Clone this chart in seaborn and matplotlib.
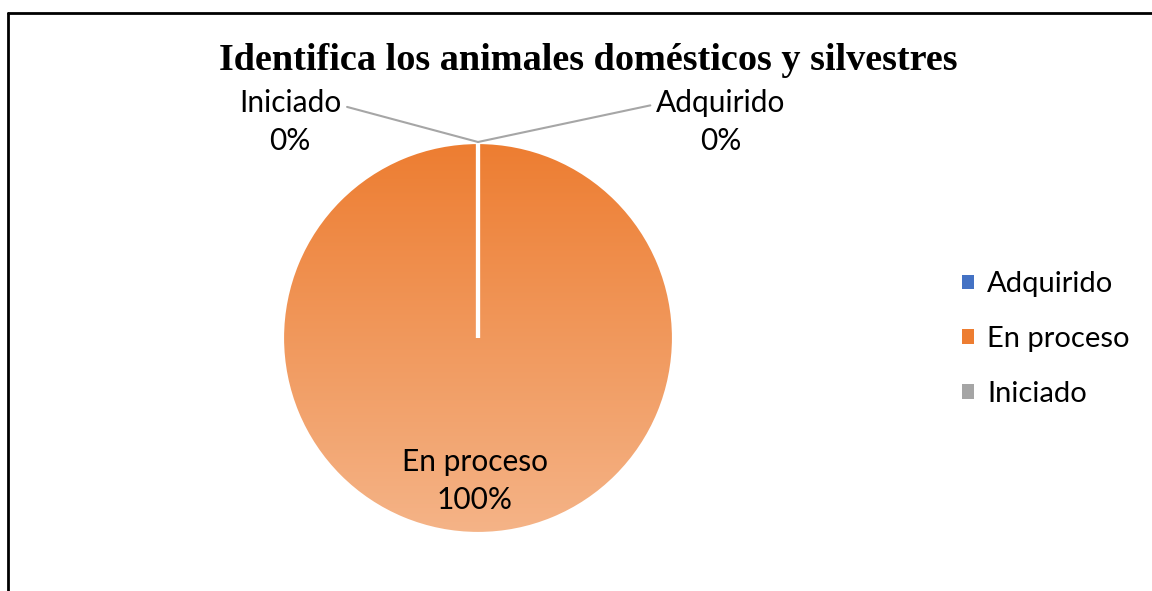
import matplotlib
matplotlib.use("Agg")
import matplotlib.pyplot as plt
from matplotlib.lines import Line2D
from matplotlib.patches import Patch
from matplotlib.colors import LinearSegmentedColormap
import numpy as np
import seaborn as sns

categories = ["Adquirido", "En proceso", "Iniciado"]
values = [0, 100, 0]
colors = ["#4472C4", "#ED7D31", "#A5A5A5"]
title = "Identifica los animales domésticos y silvestres"

sns.set_theme(style="white")
plt.rcParams['font.family'] = ['Lato', 'DejaVu Sans']
plt.rcParams['text.color'] = 'black'

W, H = 1152, 591
fig = plt.figure(figsize=(W / 100, H / 100), dpi=100)

# pie axes: center (478, 338) px, radius ~196 px
cx, cy, r = 478, 338, 196
ax = fig.add_axes([(cx - r) / W, (H - cy - r) / H, 2 * r / W, 2 * r / H])

wedges, _ = ax.pie(values, colors=colors, startangle=90, counterclock=False,
                   wedgeprops=dict(edgecolor="white", linewidth=3))

# gradient fill on the wedges (dark top -> light bottom)
for w, c in zip(wedges, colors):
    w.set_clip_on(False)
    base = np.array(matplotlib.colors.to_rgb(c))
    light = base + (1 - base) * 0.42
    cmap = LinearSegmentedColormap.from_list("g", [light, base])
    grad = np.linspace(0, 1, 256).reshape(-1, 1)
    im = ax.imshow(grad, cmap=cmap, extent=(-1, 1, -1, 1), origin="lower",
                   aspect="auto", zorder=w.get_zorder() - 0.1)
    im.set_clip_path(w)
    w.set_facecolor("none")
ax.set_xlim(-1, 1)
ax.set_ylim(-1, 1)

# data labels
total = sum(values)
lbl_pos = {"Iniciado": (290, 122), "Adquirido": (721, 122), "En proceso": (475, 481)}
for cat, v in zip(categories, values):
    x, y = lbl_pos[cat]
    txt = f"{cat}\n{v / total:.0%}"
    if v == 0:
        if cat == "Iniciado":
            relpos, angB = (1.0, 0.76), 165
        else:
            relpos, angB = (0.0, 0.76), 12
        ax.annotate(txt, xy=(0, 1), xycoords="data",
                    xytext=(x / W, 1 - y / H), textcoords="figure fraction",
                    ha="center", va="center", fontsize=21.5, linespacing=1.45,
                    annotation_clip=False,
                    arrowprops=dict(arrowstyle="-", color="#A6A6A6", lw=1.5,
                                    shrinkA=2, shrinkB=0, relpos=relpos,
                                    connectionstyle=f"angle,angleA=0,angleB={angB},rad=0"))
    else:
        fig.text(x / W, 1 - y / H, txt, ha="center", va="center",
                 fontsize=21.5, linespacing=1.45)

fig.text(588 / W, 1 - 60 / H, title, ha="center", va="center",
         fontsize=27.5, fontweight="bold", family="Liberation Serif")

handles = [Patch(facecolor=c, edgecolor="none") for c in colors]
fig.legend(handles, categories, loc="center left", bbox_to_anchor=(936 / W, 1 - 339 / H),
           frameon=False, fontsize=21, handlelength=0.4, handleheight=0.4,
           handletextpad=0.45, labelspacing=0.98)

# chart frame (left and top edges visible)
fig.add_artist(Line2D([8 / W, 8 / W], [0, 1 - 13 / H], color="black", lw=2))
fig.add_artist(Line2D([8 / W, 1], [1 - 13 / H, 1 - 13 / H], color="black", lw=2))

fig.savefig("out.png", dpi=100, facecolor="white")
